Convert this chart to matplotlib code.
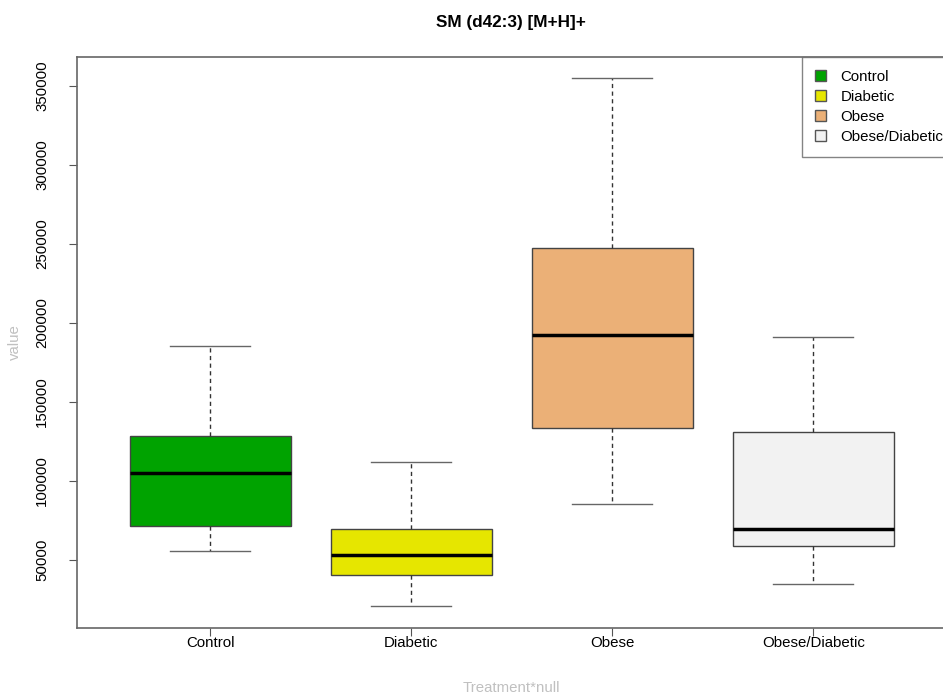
import matplotlib
matplotlib.use("Agg")
import matplotlib.pyplot as plt
from matplotlib.patches import Patch

plt.rcParams["font.family"] = ["Liberation Sans", "DejaVu Sans"]

groups = ["Control", "Diabetic", "Obese", "Obese/Diabetic"]
colors = ["#00a300", "#e6e600", "#ebb077", "#f2f2f2"]
whisker_low = [55700, 20900, 85400, 34800]
q1 = [71500, 40500, 133500, 58900]
median = [105000, 53200, 192400, 69600]
q3 = [128500, 69600, 247500, 131000]
whisker_high = [185400, 112000, 355000, 191100]
yticks = [50000, 100000, 150000, 200000, 250000, 300000, 350000]

stats = []
for i, name in enumerate(groups):
    stats.append({
        "label": name,
        "whislo": whisker_low[i],
        "q1": q1[i],
        "med": median[i],
        "q3": q3[i],
        "whishi": whisker_high[i],
        "fliers": [],
    })

fig = plt.figure(figsize=(9.43, 6.96), dpi=100)
ax = fig.add_axes([77 / 943, 1 - 628 / 696, 1 - 77 / 943 + 0.002, (628 - 57) / 696])

positions = list(range(1, len(groups) + 1))
bp = ax.bxp(
    stats,
    positions=positions,
    widths=0.8,
    patch_artist=True,
    showfliers=False,
    boxprops=dict(edgecolor="#444444", linewidth=1.0),
    medianprops=dict(color="black", linewidth=2.5),
    whiskerprops=dict(color="#333333", linewidth=1.0, linestyle=(0, (3, 2.5))),
    capprops=dict(color="#666666", linewidth=1.0),
    capwidths=0.4,
)
for patch, c in zip(bp["boxes"], colors):
    patch.set_facecolor(c)

ax.set_xlim(0.338, 4.655)
ax.set_ylim(7000, 368300)
ax.set_yticks(yticks)
ax.set_yticklabels([str(v) for v in yticks], rotation=90, va="center")
ax.set_xticks(positions)
ax.set_xticklabels(groups)
ax.tick_params(axis="both", direction="out", length=6, colors="#555555",
               labelcolor="black", labelsize=10.8)
ax.tick_params(axis="x", pad=0)
ax.tick_params(axis="y", pad=14)
for spine in ax.spines.values():
    spine.set_color("#666666")
    spine.set_linewidth(1.2)

# axis titles placed in figure coords, like R's mtext lines
fig.text(15 / 943, 1 - 342 / 696, "value", rotation=90, ha="center", va="center",
         color="#c0c0c0", fontsize=10.8)
fig.text(511 / 943, 1 - 688 / 696, "Treatment*null", ha="center", va="center",
         color="#c0c0c0", fontsize=10.8)
fig.text(511 / 943, 1 - 22 / 696, "SM (d42:3) [M+H]+", ha="center", va="center",
         fontsize=12.3, fontweight="bold")

handles = [Patch(facecolor=c, edgecolor="#555555", label=g) for g, c in zip(groups, colors)]
leg = ax.legend(handles=handles, loc="upper left", bbox_to_anchor=(802 / 943, 1 - 57 / 696),
                bbox_transform=fig.transFigure, fontsize=10.8, fancybox=False,
                borderaxespad=0, handlelength=0.75, handleheight=0.75,
                handletextpad=0.95, labelspacing=0.4, borderpad=0.85)
leg.get_frame().set_edgecolor("#666666")
leg.get_frame().set_linewidth(1.0)

fig.savefig("out.png", dpi=100)
